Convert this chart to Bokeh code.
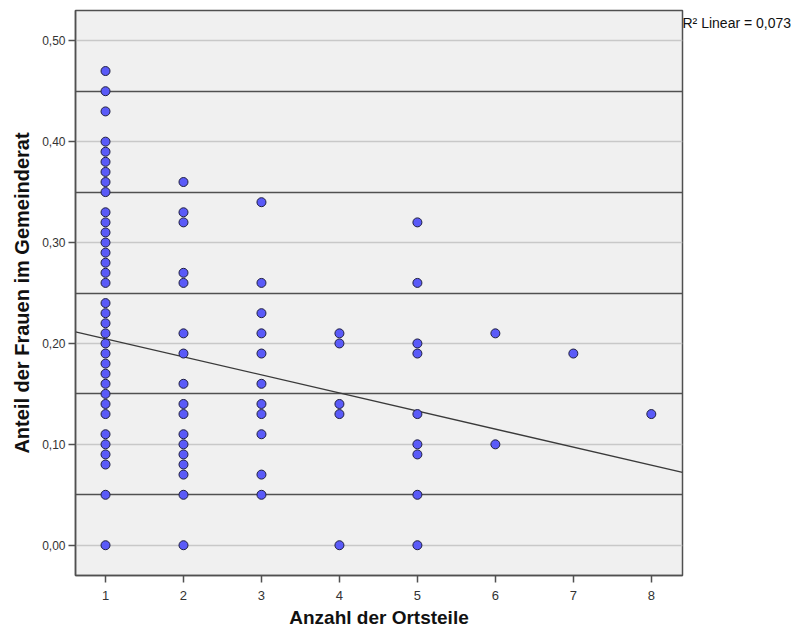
from bokeh.plotting import figure
from bokeh.models import Range1d, FixedTicker, CustomJSTickFormatter, Label, ColumnDataSource
from bokeh.embed import file_html
from bokeh.resources import INLINE

# ---- data ----
ortsteile_1 = [0.47, 0.45, 0.43, 0.40, 0.39, 0.38, 0.37, 0.36, 0.35, 0.33, 0.32, 0.31,
               0.30, 0.29, 0.28, 0.27, 0.26, 0.24, 0.23, 0.22, 0.21, 0.20, 0.19, 0.18,
               0.17, 0.16, 0.15, 0.14, 0.13, 0.11, 0.10, 0.09, 0.08, 0.05, 0.00]
ortsteile_2 = [0.36, 0.33, 0.32, 0.27, 0.26, 0.21, 0.19, 0.16, 0.14, 0.13, 0.11, 0.10,
               0.09, 0.08, 0.07, 0.05, 0.00]
ortsteile_3 = [0.34, 0.26, 0.23, 0.21, 0.19, 0.16, 0.14, 0.13, 0.11, 0.07, 0.05]
ortsteile_4 = [0.21, 0.20, 0.14, 0.13, 0.00]
ortsteile_5 = [0.32, 0.26, 0.20, 0.19, 0.13, 0.10, 0.09, 0.05, 0.00]
ortsteile_6 = [0.21, 0.10]
ortsteile_7 = [0.19]
ortsteile_8 = [0.13]
groups = [ortsteile_1, ortsteile_2, ortsteile_3, ortsteile_4,
          ortsteile_5, ortsteile_6, ortsteile_7, ortsteile_8]

fit_intercept = 0.2225
fit_slope = -0.0179
r2_text = "R\u00b2 Linear = 0,073"

x_ticks = [1, 2, 3, 4, 5, 6, 7, 8]
y_ticks = [0.0, 0.1, 0.2, 0.3, 0.4, 0.5]
y_minor = [0.05, 0.15, 0.25, 0.35, 0.45]

x_label = "Anzahl der Ortsteile"
y_label = "Anteil der Frauen im Gemeinderat"

xs, ys = [], []
for i, g in enumerate(groups):
    for v in g:
        xs.append(x_ticks[i])
        ys.append(v)
src = ColumnDataSource(dict(x=xs, y=ys))

X0, X1 = 0.615, 8.4
Y0, Y1 = -0.03, 0.53

p = figure(frame_width=607, frame_height=565, output_backend="svg", toolbar_location=None,
           x_range=Range1d(X0, X1), y_range=Range1d(Y0, Y1),
           min_border_left=75, min_border_right=108, min_border_top=10, min_border_bottom=55)
p.background_fill_color = "#f0f0f0"
p.border_fill_color = "white"
p.outline_line_color = "#505050"
p.outline_line_width = 1.5

# grids
p.xgrid.grid_line_color = None
p.yaxis.ticker = FixedTicker(ticks=y_ticks, minor_ticks=y_minor)
p.xaxis.ticker = FixedTicker(ticks=x_ticks)
p.ygrid.grid_line_color = "#c8c8c8"
p.ygrid.grid_line_width = 1.5
p.ygrid.minor_grid_line_color = "#505050"
p.ygrid.minor_grid_line_width = 1.5

p.yaxis.formatter = CustomJSTickFormatter(code="return tick.toFixed(2).replace('.', ',');")

for ax in (p.xaxis, p.yaxis):
    ax.axis_line_color = "#505050"
    ax.axis_line_width = 1.5
    ax.major_tick_line_color = "#505050"
    ax.major_tick_line_width = 1.5
    ax.major_tick_out = 7
    ax.major_tick_in = 0
    ax.minor_tick_line_color = None
    ax.major_label_text_font = "Liberation Sans"
    ax.major_label_text_font_size = "12px"
    ax.major_label_text_color = "#333333"
    ax.axis_label_text_font = "Liberation Sans"
    ax.axis_label_text_font_style = "bold"
    ax.axis_label_text_color = "#111111"

p.xaxis.major_label_text_font_size = "13px"
p.xaxis.axis_label = x_label
p.yaxis.axis_label = y_label
p.xaxis.axis_label_text_font_size = "19px"
p.yaxis.axis_label_text_font_size = "20px"
p.xaxis.major_label_standoff = 8
p.yaxis.major_label_standoff = 3
p.xaxis.axis_label_standoff = 4
p.yaxis.axis_label_standoff = 6

# regression line over the full x range
p.line([X0, X1], [fit_intercept + fit_slope * X0, fit_intercept + fit_slope * X1],
       line_color="#3a3a3a", line_width=1.3)

p.scatter("x", "y", source=src, size=9, fill_color="#5a5af8",
          line_color="#202040", line_width=1.0)

lab = Label(x=0, y=553, x_units="screen", y_units="screen", text=r2_text,
            text_font="Liberation Sans", text_font_size="14px", text_color="#111111",
            text_baseline="middle", text_align="left")
p.add_layout(lab, "right")

open("out.html", "w").write(file_html(p, INLINE))
